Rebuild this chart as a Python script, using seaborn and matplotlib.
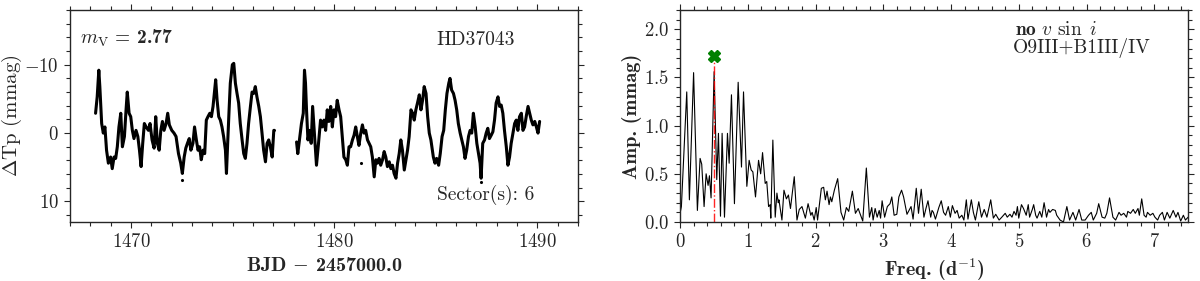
import numpy as np
import pandas as pd
import matplotlib
matplotlib.use('Agg')
import matplotlib.pyplot as plt
import seaborn as sns
from matplotlib.ticker import MultipleLocator

# light curve, two orbits of sector 6 (BJD - 2457000, mmag)
lc_t1 = [1468.26, 1468.34, 1468.42, 1468.47, 1468.56, 1468.64, 1468.72, 1468.80, 1468.89, 1469.00,
         1469.08, 1469.17, 1469.25, 1469.33, 1469.41, 1469.50, 1469.58, 1469.68, 1469.76, 1469.82,
         1469.91, 1469.99, 1470.07, 1470.15, 1470.25, 1470.34, 1470.42, 1470.50, 1470.58, 1470.66,
         1470.75, 1470.86, 1470.94, 1471.04, 1471.14, 1471.22, 1471.30, 1471.39, 1471.47, 1471.55,
         1471.63, 1471.73, 1471.81, 1471.89, 1472.01, 1472.12, 1472.22, 1472.34, 1472.45, 1472.53,
         1472.62, 1472.70, 1472.78, 1472.87, 1472.95, 1473.05, 1473.13, 1473.22, 1473.30, 1473.38,
         1473.46, 1473.55, 1473.63, 1473.71, 1473.79, 1473.88, 1473.96, 1474.04, 1474.12, 1474.17,
         1474.24, 1474.32, 1474.40, 1474.48, 1474.56, 1474.65, 1474.70, 1474.76, 1474.83, 1474.89,
         1474.99, 1475.06, 1475.14, 1475.22, 1475.30, 1475.38, 1475.47, 1475.55, 1475.63, 1475.71,
         1475.79, 1475.88, 1475.96, 1476.04, 1476.12, 1476.20, 1476.29, 1476.37, 1476.45, 1476.53,
         1476.62, 1476.70, 1476.78, 1476.86, 1476.95, 1477.03, 1477.06]
lc_y1 = [-2.9, -5.3, -9.2, -6.8, -1.4, 0.0, -0.9, 2.5, 4.4, 3.5,
         5.2, 3.5, 3.7, 2.0, -0.9, -2.9, 2.0, 0.5, -3.4, -6.0,
         -2.9, -2.4, -0.4, 0.8, -0.4, 0.5, 2.5, 4.9, 1.5, -1.4,
         -0.9, -0.4, -1.4, 1.0, 2.2, -2.4, 1.5, 2.5, -0.4, -1.7,
         -0.4, -1.4, -2.9, -1.2, -0.4, 0.0, 0.5, 3.0, 4.4, 5.9,
         3.5, 2.2, 1.5, 0.8, 2.5, 1.5, -0.9, 1.0, 2.5, 2.0,
         3.9, 2.5, 3.0, -1.9, -2.4, -2.9, -2.4, -3.9, -6.3, -7.8,
         -4.8, -2.4, -1.9, -0.9, 0.5, 2.5, 5.9, 1.5, -3.4, -7.3,
         -10.0, -10.2, -7.3, -5.8, -4.4, -1.4, 1.0, 3.0, 3.7, 1.5,
         -1.4, -3.9, -6.0, -5.8, -6.8, -5.3, -3.9, -2.4, 0.0, 2.5,
         4.2, 1.5, 1.0, 2.0, 3.5, -0.4, -0.4]
lc_t2 = [1478.15, 1478.21, 1478.31, 1478.39, 1478.48, 1478.54, 1478.59, 1478.64, 1478.71, 1478.79,
         1478.87, 1478.94, 1479.04, 1479.13, 1479.23, 1479.33, 1479.41, 1479.50, 1479.58, 1479.66,
         1479.74, 1479.83, 1479.91, 1479.99, 1480.07, 1480.15, 1480.24, 1480.32, 1480.40, 1480.48,
         1480.57, 1480.65, 1480.73, 1480.81, 1480.90, 1480.98, 1481.06, 1481.14, 1481.22, 1481.31,
         1481.39, 1481.47, 1481.55, 1481.64, 1481.72, 1481.80, 1481.88, 1481.97, 1482.05, 1482.13,
         1482.21, 1482.29, 1482.38, 1482.46, 1482.54, 1482.62, 1482.71, 1482.79, 1482.87, 1482.95,
         1483.04, 1483.12, 1483.20, 1483.28, 1483.36, 1483.45, 1483.53, 1483.61, 1483.69, 1483.78,
         1483.86, 1483.94, 1484.02, 1484.10, 1484.19, 1484.27, 1484.35, 1484.43, 1484.52, 1484.60,
         1484.68, 1484.76, 1484.88, 1484.96, 1485.04, 1485.14, 1485.22, 1485.31, 1485.39, 1485.47,
         1485.55, 1485.64, 1485.70, 1485.78, 1485.87, 1485.95, 1486.03, 1486.11, 1486.20, 1486.28,
         1486.36, 1486.44, 1486.52, 1486.61, 1486.69, 1486.77, 1486.85, 1486.94, 1487.02, 1487.10,
         1487.18, 1487.23, 1487.31, 1487.40, 1487.48, 1487.56, 1487.64, 1487.73, 1487.81, 1487.89,
         1487.97, 1488.06, 1488.14, 1488.22, 1488.30, 1488.38, 1488.47, 1488.55, 1488.63, 1488.71,
         1488.80, 1488.88, 1488.96, 1489.04, 1489.12, 1489.21, 1489.29, 1489.37, 1489.46, 1489.54,
         1489.62, 1489.70, 1489.78, 1489.87, 1489.95, 1490.03, 1490.11]
lc_y2 = [1.3, 3.0, 0.5, -1.4, -2.9, -9.2, -7.3, -3.4, 1.0, -0.4,
         1.5, -3.9, 0.5, 4.7, 1.5, -1.9, -0.9, -1.9, -0.4, -3.4,
         -1.7, -3.9, -0.9, -3.4, -2.4, -4.8, -3.4, -2.4, 0.5, 3.5,
         3.9, 4.7, 2.0, 2.0, 1.0, 0.3, -0.9, 0.5, 1.8, 0.0,
         -1.2, 0.0, -0.4, 1.0, 1.5, 2.0, 3.5, 6.4, 3.9, 4.4,
         3.7, 4.7, 3.9, 2.7, 3.5, 4.9, 4.2, 5.2, 4.7, 5.9,
         6.6, 4.4, 3.0, 1.0, 2.5, 5.4, 3.9, 2.5, 0.5, -3.4,
         -2.9, -1.9, -3.4, -4.4, -5.6, -3.4, -4.8, -6.8, -5.8, -2.4,
         0.0, 1.0, 3.5, 4.4, 3.7, 4.7, 3.0, 0.5, -0.4, -3.4,
         -5.8, -7.3, -8.0, -6.3, -5.8, -4.8, -3.4, -1.4, 0.0, 1.0,
         2.0, 3.7, 2.5, 0.5, -0.4, 0.0, -2.9, -0.9, 1.5, 3.0,
         4.4, 6.6, 1.5, 1.0, 0.0, -0.7, 0.8, 0.3, -0.2, -1.9,
         -4.4, -5.3, -3.9, -4.1, -2.9, -0.4, 2.0, 4.7, 3.5, 1.5,
         0.0, -1.4, -1.9, -0.4, -2.4, -2.9, -0.4, -0.9, -2.6, -3.9,
         -2.9, -1.9, -1.2, -1.7, -0.9, 0.0, -1.7]
# a few isolated points off the band
lc_out_t = [1472.53, 1481.31, 1487.21]
lc_out_y = [6.9, 4.4, 7.2]

# amplitude spectrum (d^-1, mmag)
freq = [0.0, 0.02, 0.099, 0.138, 0.2, 0.256, 0.296, 0.32, 0.355, 0.385,
        0.414, 0.434, 0.458, 0.503, 0.542, 0.567, 0.597, 0.621, 0.656, 0.70,
        0.725, 0.759, 0.803, 0.858, 0.907, 0.937, 0.986, 1.02, 1.05, 1.075,
        1.114, 1.159, 1.19, 1.218, 1.257, 1.28, 1.307, 1.33, 1.34, 1.37,
        1.405, 1.43, 1.45, 1.46, 1.504, 1.534, 1.57, 1.6, 1.63, 1.686,
        1.726, 1.76, 1.8, 1.85, 1.89, 1.93, 1.95, 1.98, 2.01, 2.03,
        2.086, 2.12, 2.145, 2.17, 2.2, 2.22, 2.24, 2.278, 2.327, 2.376,
        2.416, 2.455, 2.49, 2.544, 2.589, 2.63, 2.65, 2.697, 2.75, 2.796,
        2.83, 2.85, 2.88, 2.91, 2.94, 2.96, 2.983, 3.02, 3.06, 3.1,
        3.126, 3.16, 3.2, 3.23, 3.27, 3.3, 3.35, 3.38, 3.41, 3.44,
        3.487, 3.52, 3.56, 3.6, 3.63, 3.66, 3.7, 3.72, 3.74, 3.77,
        3.82, 3.856, 3.89, 3.92, 3.96, 3.99, 4.02, 4.06, 4.09, 4.12,
        4.16, 4.19, 4.226, 4.25, 4.30, 4.33, 4.36, 4.41, 4.45, 4.49,
        4.53, 4.586, 4.625, 4.66, 4.71, 4.75, 4.8, 4.83, 4.87, 4.9,
        4.93, 4.96, 4.98, 5.0, 5.04, 5.07, 5.11, 5.14, 5.16, 5.2,
        5.22, 5.25, 5.27, 5.31, 5.34, 5.374, 5.41, 5.44, 5.46, 5.5,
        5.54, 5.56, 5.61, 5.66, 5.71, 5.75, 5.8, 5.84, 5.89, 5.93,
        5.98, 6.03, 6.07, 6.1, 6.15, 6.18, 6.23, 6.27, 6.3, 6.34,
        6.39, 6.43, 6.48, 6.51, 6.55, 6.59, 6.61, 6.65, 6.69, 6.72,
        6.76, 6.78, 6.815, 6.85, 6.88, 6.9, 6.94, 6.98, 7.01, 7.05,
        7.08, 7.12, 7.15, 7.19, 7.23, 7.28, 7.32, 7.35, 7.39, 7.43,
        7.46, 7.5]
amp = [0.09, 0.16, 1.35, 0.23, 1.55, 0.12, 0.66, 0.6, 0.16, 0.5,
       0.38, 0.48, 0.25, 1.56, 0.44, 0.92, 0.06, 0.92, 0.05, 0.92,
       0.61, 1.32, 0.19, 1.45, 0.57, 1.35, 0.37, 0.64, 0.54, 0.52,
       0.26, 0.64, 0.5, 0.72, 0.4, 0.42, 0.16, 0.18, 0.04, 0.85,
       0.05, 0.30, 0.2, 0.23, 0.02, 0.33, 0.24, 0.28, 0.14, 0.47,
       0.02, 0.13, 0.16, 0.04, 0.19, 0.07, 0.1, 0.02, 0.15, 0.02,
       0.35, 0.36, 0.23, 0.32, 0.18, 0.26, 0.21, 0.33, 0.45, 0.1,
       0.02, 0.15, 0.11, 0.32, 0.09, 0.14, 0.1, 0.01, 0.56, 0.05,
       0.15, 0.02, 0.14, 0.05, 0.12, 0.04, 0.22, 0.05, 0.16, 0.19,
       0.26, 0.07, 0.08, 0.26, 0.33, 0.26, 0.08, 0.12, 0.16, 0.03,
       0.35, 0.09, 0.34, 0.05, 0.14, 0.22, 0.05, 0.12, 0.1, 0.03,
       0.15, 0.22, 0.1, 0.07, 0.16, 0.05, 0.17, 0.09, 0.12, 0.04,
       0.07, 0.02, 0.23, 0.03, 0.23, 0.1, 0.02, 0.21, 0.05, 0.13,
       0.05, 0.23, 0.04, 0.08, 0.02, 0.05, 0.09, 0.05, 0.08, 0.05,
       0.11, 0.07, 0.16, 0.04, 0.18, 0.14, 0.07, 0.18, 0.05, 0.13,
       0.18, 0.07, 0.04, 0.11, 0.05, 0.2, 0.05, 0.13, 0.1, 0.13,
       0.12, 0.07, 0.02, 0.0, 0.16, 0.02, 0.1, 0.02, 0.13, 0.02,
       0.02, 0.07, 0.1, 0.02, 0.09, 0.19, 0.05, 0.04, 0.09, 0.25,
       0.05, 0.02, 0.1, 0.07, 0.09, 0.05, 0.11, 0.09, 0.13, 0.09,
       0.14, 0.07, 0.24, 0.07, 0.05, 0.1, 0.07, 0.09, 0.05, 0.02,
       0.07, 0.1, 0.02, 0.1, 0.04, 0.12, 0.05, 0.1, 0.01, 0.07,
       0.02, 0.05]

peak_freq = 0.503
peak_mark_amp = 1.72

star_name = 'HD37043'
vmag = '2.77'
sectors = '6'
sp_type = 'O9III+B1III/IV'

sns.set_style('ticks')
plt.rcParams['font.family'] = ['cmr10', 'DejaVu Serif']
plt.rcParams['mathtext.fontset'] = 'cm'
plt.rcParams['axes.formatter.use_mathtext'] = True
plt.rcParams['axes.linewidth'] = 1.0

lc = pd.DataFrame({'t': lc_t1 + lc_t2, 'dm': lc_y1 + lc_y2,
                   'orbit': [1] * len(lc_t1) + [2] * len(lc_t2)})
lc_out = pd.DataFrame({'t': lc_out_t, 'dm': lc_out_y})
spec = pd.DataFrame({'freq': freq, 'amp': amp})

fig = plt.figure(figsize=(12, 2.81), dpi=100)
ax1 = fig.add_axes([0.0583, 0.21, 0.4234, 0.7544])
ax2 = fig.add_axes([0.5667, 0.21, 0.4234, 0.7544])

# Light curve
sns.lineplot(data=lc, x='t', y='dm', units='orbit', estimator=None, sort=False,
             color='k', linewidth=2.2, ax=ax1)
sns.scatterplot(data=lc_out, x='t', y='dm', color='k', s=5, linewidth=0, ax=ax1)
ax1.set_xlim(1467.0, 1492.0)
ax1.set_ylim(13, -18)
ax1.xaxis.set_major_locator(MultipleLocator(10))
ax1.xaxis.set_minor_locator(MultipleLocator(1))
ax1.yaxis.set_major_locator(MultipleLocator(10))
ax1.yaxis.set_minor_locator(MultipleLocator(2))
ax1.set_xlabel(r'BJD $-$ 2457000.0', fontsize=14.5, family='cmb10')
ax1.set_ylabel(r'$\Delta$Tp (mmag)', fontsize=15)
ax1.yaxis.set_label_coords(-0.09, 0.5)
ax1.text(0.02, 0.865, r'$m_{\rm V}$ = ' + vmag, transform=ax1.transAxes,
         fontsize=14, family='cmb10', va='center', ha='left')
ax1.text(0.722, 0.858, star_name, transform=ax1.transAxes,
         fontsize=14, va='center', ha='left')
ax1.text(0.722, 0.127, 'Sector(s): ' + sectors, transform=ax1.transAxes,
         fontsize=14, va='center', ha='left')

# Amplitude spectrum
sns.lineplot(data=spec, x='freq', y='amp', color='k', linewidth=0.8, sort=False, ax=ax2)
ax2.vlines(peak_freq, 0, peak_mark_amp, colors='red', linestyles='-.', linewidth=1.0, alpha=0.85)
ax2.plot([peak_freq], [peak_mark_amp], marker='X', color='green', markersize=9, linestyle='none')
ax2.set_xlim(0, 7.5)
ax2.set_ylim(0, 2.2)
ax2.xaxis.set_major_locator(MultipleLocator(1))
ax2.xaxis.set_minor_locator(MultipleLocator(0.2))
ax2.yaxis.set_major_locator(MultipleLocator(0.5))
ax2.yaxis.set_minor_locator(MultipleLocator(0.1))
ax2.set_xlabel(r'Freq. (d$^{-1}$)', fontsize=14.5, family='cmb10')
ax2.set_ylabel('Amp. (mmag)', fontsize=14.5, family='cmb10')
ax2.yaxis.set_label_coords(-0.075, 0.5)
ax2.text(0.659, 0.906, r'no $v\ \sin\ i$', transform=ax2.transAxes,
         fontsize=14, family='cmb10', va='center', ha='left')
ax2.text(0.656, 0.823, sp_type, transform=ax2.transAxes,
         fontsize=14, va='center', ha='left')

for ax in (ax1, ax2):
    ax.tick_params(which='both', direction='out', top=True, right=True,
                   labelsize=13.5, width=0.8)
    ax.tick_params(which='major', length=4.5)
    ax.tick_params(which='minor', length=3)
    for sp in ax.spines.values():
        sp.set_visible(True)

fig.savefig('out.png', dpi=100)
